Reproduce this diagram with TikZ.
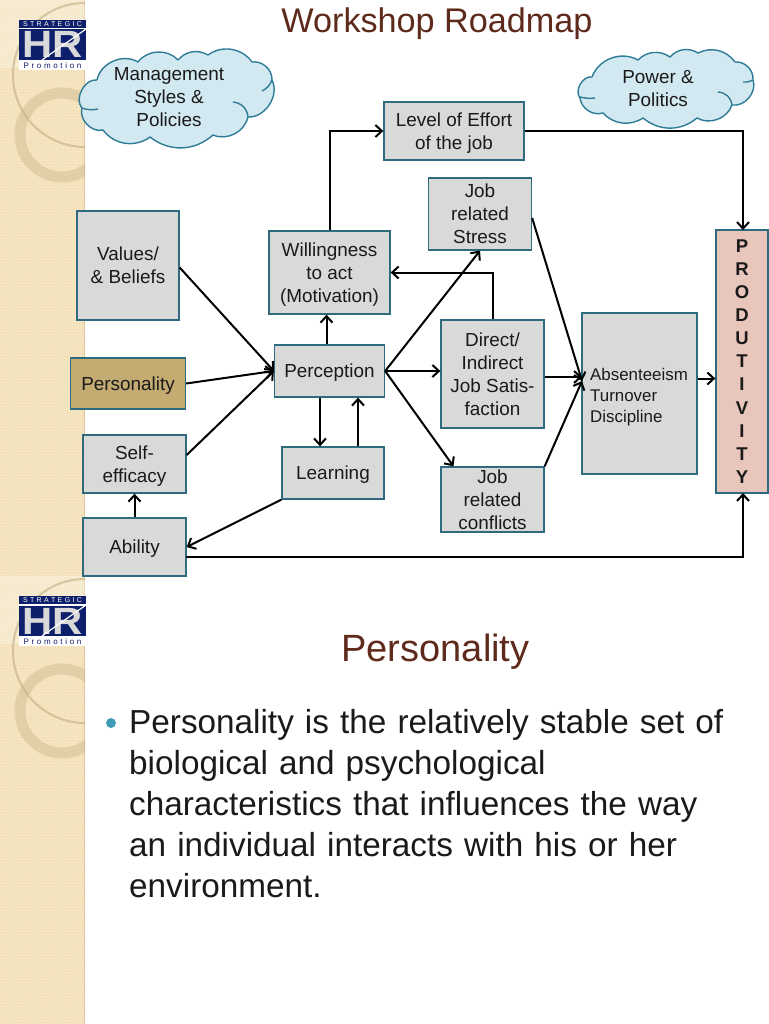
\documentclass[tikz,border=0pt]{standalone}
\usepackage{fontspec}
\setmainfont{Liberation Sans}
\usetikzlibrary{arrows.meta,patterns,calc}
\definecolor{strip}{HTML}{F6E6C2}
\definecolor{stripdot}{HTML}{EAD6A8}
\definecolor{ringc}{HTML}{C9B48A}
\definecolor{navy}{HTML}{0E1F6B}
\definecolor{edgeteal}{HTML}{2F6B7E}
\definecolor{boxgrey}{HTML}{D9D9D9}
\definecolor{tan}{HTML}{C3AB72}
\definecolor{rose}{HTML}{E8C6BC}
\definecolor{cloudfill}{HTML}{D3E9F2}
\definecolor{cloudline}{HTML}{2F7C96}
\definecolor{titlebrown}{HTML}{5E2A1C}
\definecolor{bulletteal}{HTML}{3F9DB5}
\definecolor{inktext}{HTML}{1A1A1A}
\tikzset{
  rbox/.style={draw=edgeteal,fill=boxgrey,line width=1.3pt,inner sep=0pt,align=center,text=inktext,text depth=0pt,
    font=\fontsize{18.9}{23}\selectfont},
  ctext/.style={inner sep=0pt,align=center,text=inktext,text depth=0pt,font=\fontsize{18.9}{23}\selectfont},
  puff/.style={draw=cloudline,fill=cloudfill,line width=1.4pt,line join=round},
  flourish/.style={draw=cloudline,line width=1.4pt},
  conn/.style={draw=black,line width=2pt,-{Straight Barb[length=6.5pt,width=12pt,line width=2pt]}},
  slidetitle/.style={inner sep=0pt,text=titlebrown},
  pics/hrlogo/.style={code={
    \fill[white] (19,20) rectangle (86,70);
    \fill[navy] (19,20) rectangle (86,60);
    \fill[white] (19,28) rectangle (86,29.5);
    \node[inner sep=0pt,text=white,text depth=0pt,font=\fontsize{7}{7}\selectfont] (-strat) at (52.5,24) {S\,\,T\,\,R\,\,A\,\,T\,\,E\,\,G\,\,I\,\,C};
    \node[inner sep=0pt,text=boxgrey,xscale=1.1,text height=26pt,text depth=0pt,font=\bfseries\fontsize{38}{38}\selectfont] (-hr) at (52.5,45) {HR};
    \draw[white,line width=1.2pt] (42,60) -- (86,29);
    \node[inner sep=0pt,text=navy,text depth=0pt,font=\fontsize{8}{8}\selectfont] (-promo) at (52.5,65.5) {P\,\,r\,\,o\,\,m\,\,o\,\,t\,\,i\,\,o\,\,n};
  }},
  pics/rings/.style={code={
    \begin{scope}
      \clip (0,0) rectangle (85,576);
      \fill[white,opacity=.28] (0,0) rectangle (85,68);
      \draw[ringc,opacity=.7,line width=2pt] (85,75) circle[radius=72pt];
      \draw[ringc,opacity=.42,line width=11pt] (62,135) circle[radius=42pt];
    \end{scope}
  }}
}
\begin{document}
\begin{tikzpicture}[x=1pt,y=-1pt]
\useasboundingbox (0,0) rectangle (768,1024);
\fill[white] (0,0) rectangle (768,1024);
% side strip
\fill[strip] (0,0) rectangle (85,1024);
\fill[pattern=crosshatch dots,pattern color=stripdot] (0,0) rectangle (85,1024);
\fill[ringc,opacity=.6] (83.5,0) rectangle (85,1024);
\pic at (0,0) {rings};
\pic at (0,576) {rings};
\pic (logoA) at (0,0) {hrlogo};
\pic (logoB) at (0,576) {hrlogo};
% titles
\node[slidetitle,font=\fontsize{34.2}{38}\selectfont] (title) at (437,24) {Workshop Roadmap};
\node[slidetitle,font=\fontsize{38}{42}\selectfont] (ptitle) at (435.5,652) {Personality};
% clouds
\path[puff] (97,80) to[bend left=55] (138,62) to[bend left=50] (178,60) to[bend left=40] (208,55)
  to[bend left=45] (252,62) to[bend left=50] (272,80) to[bend left=60] (248,117) to[bend left=50] (213,135)
  to[bend left=40] (150,137) to[bend left=45] (103,130) to[bend left=60] (82,108) to[bend left=70] (97,80);
\draw[flourish] (82,108) to[bend right=15] (98,109);
\draw[flourish] (233,102) to[bend left=40] (248,117);
\draw[flourish] (262,91) to[bend right=20] (272,80);
\node[ctext] (mgmt) at (169,97) {Management\\Styles \&\\Policies};
\path[puff] (592,77) to[bend left=50] (638,60) to[bend left=40] (670,57) to[bend left=40] (698,53)
  to[bend left=40] (735,62) to[bend left=50] (753,80) to[bend left=60] (732,105) to[bend left=50] (697,118)
  to[bend left=40] (643,118) to[bend left=40] (603,113) to[bend left=50] (580,98) to[bend left=70] (592,77);
\draw[flourish] (580,97) to[bend right=10] (595,98);
\draw[flourish] (718,92) to[bend left=40] (732,105);
\draw[flourish] (743,82) to[bend right=15] (753,80);
\node[ctext] (power) at (658,88) {Power \&\\Politics};
% boxes
\node[rbox,minimum width=115pt,minimum height=51pt,fill=tan] (pers) at (128,383.5) {Personality};
\node[rbox,minimum width=102pt,minimum height=109pt] (values) at (128,265.5) {Values/\\\& Beliefs};
\node[rbox,minimum width=103pt,minimum height=58pt] (self) at (134.5,464) {Self-\\efficacy};
\node[rbox,minimum width=103pt,minimum height=58pt] (ability) at (134.5,547) {Ability};
\node[rbox,minimum width=110pt,minimum height=52pt] (percep) at (329.5,371) {Perception};
\node[rbox,minimum width=102pt,minimum height=52pt] (learn) at (333,473) {Learning};
\node[rbox,minimum width=121pt,minimum height=83pt] (will) at (329.5,272.5) {Willingness\\to act\\(Motivation)};
\node[rbox,minimum width=140pt,minimum height=58pt] (effort) at (454,131) {Level of Effort\\of the job};
\node[rbox,minimum width=103pt,minimum height=72pt] (stress) at (480,214) {Job\\related\\Stress};
\node[rbox,minimum width=103pt,minimum height=108pt] (sat) at (492.5,374) {Direct/\\Indirect\\Job Satis-\\faction};
\node[rbox,minimum width=103pt,minimum height=65pt] (conf) at (492.5,499.5) {Job\\related\\conflicts};
\node[rbox,minimum width=115pt,minimum height=161pt] (abs) at (639.5,393.5) {};
\node[ctext,anchor=west,align=left,font=\fontsize{16.9}{21}\selectfont] (abstext) at (590,395) {Absenteeism\\Turnover\\Discipline};
\node[rbox,minimum width=52pt,minimum height=263pt,fill=rose,
  font=\bfseries\fontsize{18.5}{23.1}\selectfont] (prod) at (742,361.5) {P\\R\\O\\D\\U\\T\\I\\V\\I\\T\\Y};
% connector helper points
\coordinate (absin) at (582,381);
\coordinate (satin) at (582,377);
\coordinate (prodtop) at (743,230);
\coordinate (prodbot) at (743,493);
\coordinate (abilityout) at (186,557);
% connectors
\draw[conn] ([yshift=-2pt]values.east) -- (percep.west);
\draw[conn] (pers.east) -- (percep.west);
\draw[conn] ([yshift=9pt]self.east) -- (percep.west);
\draw[conn] (ability.north) -- (self.south);
\draw[conn] ([xshift=-9.5pt]percep.south) -- ([xshift=-13pt]learn.north);
\draw[conn] ([xshift=25pt]learn.north) -- ([xshift=28.5pt]percep.south);
\draw[conn] (learn.south west) -- (ability.east);
\draw[conn] ([xshift=-3pt]percep.north) -- ([xshift=-3pt]will.south);
\draw[conn] (will.north) -- (will.north |- effort.west) -- (effort.west);
\draw[conn] (effort.east) -- (prodtop |- effort.east) -- (prodtop);
\draw[conn] (abilityout) -- (prodbot |- abilityout) -- (prodbot);
\draw[conn] (sat.north) -- (sat.north |- will.east) -- (will.east);
\draw[conn] (percep.east) -- (stress.south);
\draw[conn] (percep.east) -- ([yshift=3pt]sat.west);
\draw[conn] (percep.east) -- ([xshift=-39pt]conf.north);
\draw[conn] ([yshift=-4pt]stress.east) -- (absin);
\draw[conn] ([yshift=-3pt]sat.east) -- (satin);
\draw[conn] (conf.north east) -- (absin);
\draw[conn] ([yshift=15pt]abs.east) -- ([yshift=15pt]abs.east -| prod.west);
% body
\fill[bulletteal] (111,723) circle[radius=5pt];
\node[inner sep=0pt,anchor=north west,align=left,text=inktext,font=\fontsize{33.3}{41}\selectfont,text width=630pt] (body) at (129,709.5)
 {Personality is the relatively stable set of\\biological and psychological\\characteristics that influences the way\\an individual interacts with his or her\\environment.};
\end{tikzpicture}
\end{document}
